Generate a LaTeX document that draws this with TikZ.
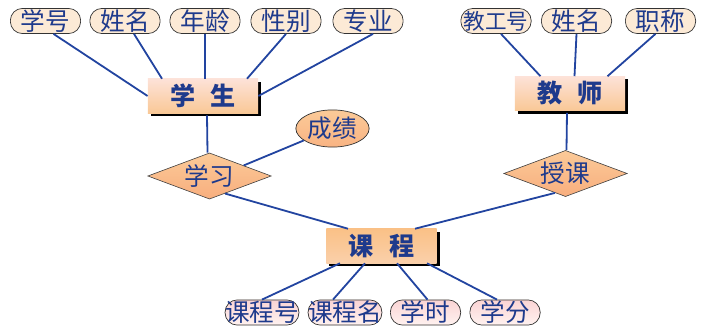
\documentclass[tikz,border=0pt]{standalone}
\usepackage{fontspec}
\setmainfont{Noto Sans CJK SC}
\usetikzlibrary{shapes.geometric,shadows,calc}

\definecolor{linkblue}{HTML}{2244A0}
\definecolor{textblue}{HTML}{1E3A8C}
\definecolor{attrfill}{HTML}{FCEAD6}
\definecolor{pinktop}{HTML}{FAD4D4}
\definecolor{pinkbot}{HTML}{FFF2F0}
\definecolor{enttop}{HTML}{FDE2D8}
\definecolor{entbot}{HTML}{F9C896}
\definecolor{reltop}{HTML}{FBCA98}
\definecolor{relbot}{HTML}{F8AE7E}

\begin{document}
\begin{tikzpicture}[
  x=0.35mm, y=-0.35mm,
  attr/.style={rectangle, rounded corners=12pt, draw=black!80, line width=0.7pt,
               minimum width=70pt, minimum height=25pt, inner sep=0pt,
               fill=attrfill, text=textblue, font=\fontsize{24.5}{24.5}\selectfont},
  attrl/.style={attr, font=\fontsize{21.5}{21.5}\selectfont},
  attrp/.style={attr, top color=pinktop, bottom color=pinkbot},
  entity/.style={rectangle, minimum width=110pt, minimum height=34pt, inner sep=0pt,
                 top color=enttop, bottom color=entbot, text=textblue,
                 font=\fontsize{25}{25}\selectfont\bfseries,
                 drop shadow={shadow xshift=3pt, shadow yshift=-3pt, fill=black, opacity=1}},
  rel/.style={diamond, aspect=2.67, draw=black!75, line width=0.6pt,
              minimum width=123pt, minimum height=46pt, inner sep=0pt,
              top color=reltop, bottom color=relbot, text=textblue,
              font=\fontsize{24.5}{24.5}\selectfont},
  link/.style={draw=linkblue, line width=1.8pt},
]
\useasboundingbox (0,0) rectangle (707,335);

% student
\node[attr] (xh)  at (45.5,21)  {学号};
\node[attr] (xm)  at (125,21)   {姓名};
\node[attr] (nl)  at (205,21)   {年龄};
\node[attr] (xb)  at (286,21)   {性别};
\node[attr] (zy)  at (368,21)   {专业};
\node[entity] (stu) at (203,96) {学\hspace{15pt}生};

% teacher
\node[attrl] (jgh) at (496,21)  {教工号};
\node[attr]  (txm) at (576.5,21) {姓名};
\node[attr]  (zc)  at (660.5,21) {职称};
\node[entity] (tea) at (570,93.5) {教\hspace{15pt}师};

% relations
\node[rel] (xx) at (209.5,176) {学习};
\node[rel] (sk) at (565.5,173.5) {授课};
\node[ellipse, draw=black!80, line width=0.7pt, minimum width=73pt, minimum height=37pt,
      inner sep=0pt, top color=reltop, bottom color=relbot!80!reltop, text=textblue,
      font=\fontsize{24.5}{24.5}\selectfont] (cj) at (332.5,128.5) {成绩};

% course
\node[entity, top color=entbot!90!orange, bottom color=entbot!70!enttop] (kc) at (381.5,246) {课\hspace{15pt}程};
\node[attrl, attrp] (kch) at (262,312.5) {课程号};
\node[attrl, attrp] (kcm) at (345,312.5) {课程名};
\node[attrp] (xs) at (425.5,312.5) {学时};
\node[attrp] (xf) at (505,312.5)   {学分};

% links
\draw[link] ($(xh.south)+(8,0)$) -- (stu.west);
\draw[link] ($(xm.south)+(9,0)$) -- ($(stu.north)+(-41,0)$);
\draw[link] (nl.south) -- (nl.south |- stu.north);
\draw[link] (xb.south) -- ($(stu.north)+(44,0)$);
\draw[link] ($(zy.south)+(5,0)$) -- (stu.east);

\draw[link] ($(jgh.south)+(5,0)$) -- ($(tea.north)+(-29.5,0)$);
\draw[link] (txm.south) -- ($(tea.north)+(4.5,0)$);
\draw[link] ($(zc.south)+(-5,0)$) -- ($(tea.north)+(37.5,0)$);

\draw[link] ($(stu.south)+(4,2)$) -- ($(xx.north)+(-2,0)$);
\draw[link] ($(tea.south)+(-3,2)$) -- ($(sk.north)+(1,0)$);
\draw[link] (cj) -- ($(xx.north)!0.55!(xx.east)$);
\draw[link] ($(xx.south)!0.25!(xx.east)$) -- ($(kc.north)+(-33.5,0)$);
\draw[link] ($(sk.south)!0.17!(sk.west)$) -- ($(kc.north)+(33.5,0)$);

\draw[link] (kch.north) -- ($(kc.south)+(-41.5,0)$);
\draw[link] ($(kcm.north)+(-12,0)$) -- ($(kc.south)+(-16.5,0)$);
\draw[link] ($(xs.north)+(2,0)$) -- ($(kc.south)+(15.5,0)$);
\draw[link] ($(xf.north)+(-8,0)$) -- ($(kc.south)+(45.5,0)$);
\end{tikzpicture}
\end{document}
